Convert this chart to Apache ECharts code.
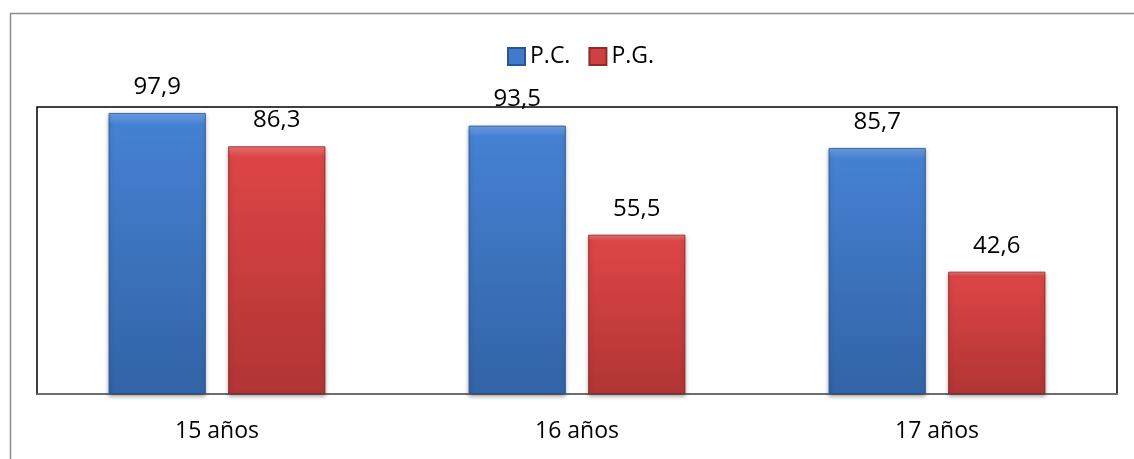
<!DOCTYPE html>
<html>
<head>
<meta charset="utf-8">
<script src="https://cdn.jsdelivr.net/npm/echarts@6/dist/echarts.min.js"></script>
<style>
html,body{margin:0;padding:0;background:#fff;}
#chart{width:1134px;height:459px;}
</style>
</head>
<body>
<div id="chart"></div>
<script>
const categories = ['15 años', '16 años', '17 años'];
const seriesNames = ['P.C.', 'P.G.'];
const pcValues = [97.9, 93.5, 85.7];
const pgValues = [86.3, 55.5, 42.6];

const FONT = '"Open Sans", sans-serif';
const chart = echarts.init(document.getElementById('chart'), null, {renderer: 'canvas'});

function grad(top, mid, bottom) {
  return new echarts.graphic.LinearGradient(0, 0, 0, 1, [
    {offset: 0, color: top},
    {offset: 0.04, color: mid},
    {offset: 0.96, color: bottom},
    {offset: 1, color: bottom}
  ]);
}
const blueFill = grad('#6fa3e6', '#4581d2', '#3364a8');
const redFill = grad('#ee7777', '#dd4545', '#b33535');

const fmt = p => String(p.value).replace('.', ',');

const label = {
  show: true, position: 'top', distance: 14,
  color: '#000', fontSize: 24, fontFamily: FONT, formatter: fmt
};

chart.setOption({
  animation: false,
  backgroundColor: '#fff',
  graphic: [{
    type: 'rect', left: 8, top: 11,
    shape: {width: 1300, height: 600},
    style: {fill: 'none', stroke: '#8c8c8c', lineWidth: 1.5},
    silent: true, z: -10
  }],
  legend: {
    left: 502, top: 40,
    itemWidth: 17, itemHeight: 17, itemGap: 18,
    textStyle: {fontSize: 23, fontFamily: FONT, color: '#000'},
    data: [
      {name: seriesNames[0], icon: 'rect', itemStyle: {color: '#3f7bcb'}},
      {name: seriesNames[1], icon: 'rect', itemStyle: {color: '#d04040'}}
    ]
  },
  grid: {
    left: 37, right: 17, top: 107, bottom: 65,
    show: true, borderColor: '#000', borderWidth: 1.5, backgroundColor: 'transparent'
  },
  xAxis: {
    type: 'category', data: categories,
    axisLine: {show: true, lineStyle: {color: '#808080', width: 1.5}},
    axisTick: {show: false},
    axisLabel: {color: '#000', fontSize: 23, fontFamily: FONT, margin: 26}
  },
  yAxis: {
    type: 'value', min: 0, max: 100,
    show: false, splitLine: {show: false}
  },
  series: [
    {
      name: seriesNames[0], type: 'bar', data: pcValues,
      barWidth: '27%', barGap: '23%',
      itemStyle: {color: blueFill, borderColor: '#2b5592', borderWidth: 0.8,
        shadowColor: 'rgba(0,0,0,0.35)', shadowBlur: 4, shadowOffsetY: 2},
      label: label
    },
    {
      name: seriesNames[1], type: 'bar', data: pgValues,
      barWidth: '27%', barGap: '23%',
      itemStyle: {color: redFill, borderColor: '#8e2a2a', borderWidth: 0.8,
        shadowColor: 'rgba(0,0,0,0.35)', shadowBlur: 4, shadowOffsetY: 2},
      label: label
    }
  ]
});
</script>
</body>
</html>
